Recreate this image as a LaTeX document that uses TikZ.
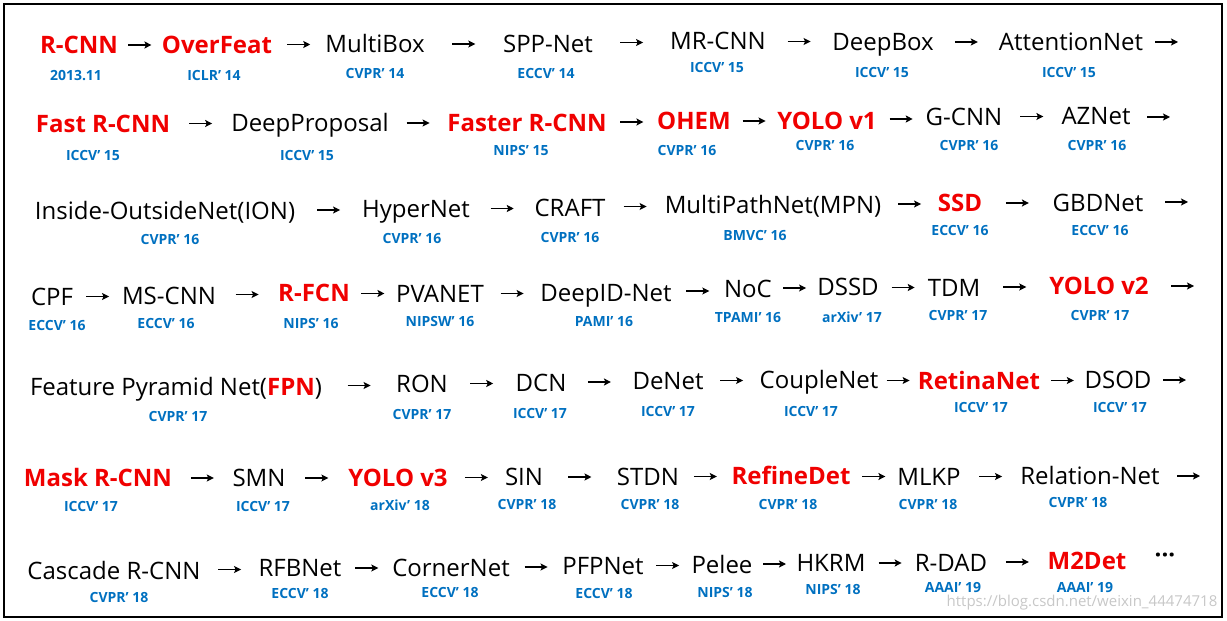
\documentclass[tikz,border=0pt]{standalone}
\usepackage{fontspec}
\setmainfont{Open Sans}
\usepackage{tikz}
\usetikzlibrary{arrows.meta,calc}
\definecolor{hotred}{RGB}{240,0,0}
\definecolor{venueblue}{RGB}{0,112,192}
\newcommand{\netfont}{\fontsize{24bp}{28bp}\selectfont}

\begin{document}
\begin{tikzpicture}[x=1bp, y=-1bp,
    net/.style={font=\netfont, text height=17bp, text depth=0bp, inner sep=0pt},
    key/.style={net, font=\netfont\bfseries, text=hotred},
    venue/.style={font=\fontsize{14bp}{16bp}\selectfont\bfseries, text=venueblue, text height=10bp, text depth=0bp, inner sep=0pt},
    arr/.style={-{Stealth[length=7bp, width=7bp, inset=1.5bp]}, line width=1.2bp,
        to path={($(\tikztostart.east)!.5!(\tikztotarget.west)+(-11.5,0)$) -- ($(\tikztostart.east)!.5!(\tikztotarget.west)+(11.5,0)$)}},
    arrend/.style={-{Stealth[length=7bp, width=7bp, inset=1.5bp]}, line width=1.2bp,
        to path={([xshift=-23bp]\tikztotarget) -- (\tikztotarget)}}
]
    \useasboundingbox (0,0) rectangle (1227,621);
    \draw[line width=2bp] (4,4) rectangle (1222,617);

    % row 1
    \node[key] (rcnn) at (79,45) {R-CNN};
    \node[key] (overfeat) at (217,45) {OverFeat};
    \node[net] (multibox) at (375,44) {MultiBox};
    \node[net] (spp) at (548,44) {SPP-Net};
    \node[net] (mrcnn) at (718,41) {MR-CNN};
    \node[net] (deepbox) at (883,42) {DeepBox};
    \node[net] (attnet) at (1071,42) {AttentionNet};
    \coordinate (end1) at (1178,42);
    \node[venue] (rcnn-v) at (76,76) {2013.11};
    \node[venue] (overfeat-v) at (214,76) {ICLR’ 14};
    \node[venue] (multibox-v) at (375,74) {CVPR’ 14};
    \node[venue] (spp-v) at (546,74) {ECCV’ 14};
    \node[venue] (mrcnn-v) at (717,68) {ICCV’ 15};
    \node[venue] (deepbox-v) at (882,73) {ICCV’ 15};
    \node[venue] (attnet-v) at (1069,73) {ICCV’ 15};
    \draw[arr] (rcnn) to (overfeat);
    \draw[arr] (overfeat) to (multibox);
    \draw[arr] (multibox) to (spp);
    \draw[arr] (spp) to (mrcnn);
    \draw[arr] (mrcnn) to (deepbox);
    \draw[arr] (deepbox) to (attnet);
    \draw[arrend] (attnet) to (end1);

    % row 2
    \node[key] (fastrcnn) at (103,124) {Fast R-CNN};
    \node[net] (deepprop) at (310,123) {DeepProposal};
    \node[key] (fasterrcnn) at (527,123) {Faster R-CNN};
    \node[key] (ohem) at (694,121) {OHEM};
    \node[key] (yolo1) at (827,121) {YOLO v1};
    \node[net] (gcnn) at (964,117) {G-CNN};
    \node[net] (aznet) at (1096,116) {AZNet};
    \coordinate (end2) at (1170,117);
    \node[venue] (fastrcnn-v) at (93,156) {ICCV’ 15};
    \node[venue] (deepprop-v) at (307,156) {ICCV’ 15};
    \node[venue] (fasterrcnn-v) at (521,151) {NIPS’ 15};
    \node[venue] (ohem-v) at (687,151) {CVPR’ 16};
    \node[venue] (yolo1-v) at (825,146) {CVPR’ 16};
    \node[venue] (gcnn-v) at (969,146) {CVPR’ 16};
    \node[venue] (aznet-v) at (1097,146) {CVPR’ 16};
    \draw[arr] (fastrcnn) to (deepprop);
    \draw[arr] (deepprop) to (fasterrcnn);
    \draw[arr] (fasterrcnn) to (ohem);
    \draw[arr] (ohem) to (yolo1);
    \draw[arr] (yolo1) to (gcnn);
    \draw[arr] (gcnn) to (aznet);
    \draw[arrend] (aznet) to (end2);

    % row 3
    \node[net] (ion) at (165,211) {Inside-OutsideNet(ION)};
    \node[net] (hypernet) at (416,209) {HyperNet};
    \node[net] (craft) at (570,208) {CRAFT};
    \node[net] (mpn) at (773,205) {MultiPathNet(MPN)};
    \node[key] (ssd) at (960,203) {SSD};
    \node[net] (gbdnet) at (1098,203) {GBDNet};
    \coordinate (end3) at (1188,202);
    \node[venue] (ion-v) at (170,240) {CVPR’ 16};
    \node[venue] (hypernet-v) at (412,239) {CVPR’ 16};
    \node[venue] (craft-v) at (570,238) {CVPR’ 16};
    \node[venue] (mpn-v) at (755,236) {BMVC’ 16};
    \node[venue] (ssd-v) at (960,231) {ECCV’ 16};
    \node[venue] (gbdnet-v) at (1100,231) {ECCV’ 16};
    \draw[arr] (ion) to (hypernet);
    \draw[arr] (hypernet) to (craft);
    \draw[arr] (craft) to (mpn);
    \draw[arr] (mpn) to (ssd);
    \draw[arr] (ssd) to (gbdnet);
    \draw[arrend] (gbdnet) to (end3);

    % row 4
    \node[net] (cpf) at (52,297) {CPF};
    \node[net] (mscnn) at (169,296) {MS-CNN};
    \node[key] (rfcn) at (314,293) {R-FCN};
    \node[net] (pvanet) at (440,294) {PVANET};
    \node[net] (deepid) at (606,293) {DeepID-Net};
    \node[net] (noc) at (748,289) {NoC};
    \node[net] (dssd) at (848,287) {DSSD};
    \node[net] (tdm) at (954,288) {TDM};
    \node[key] (yolo2) at (1099,286) {YOLO v2};
    \coordinate (end4) at (1194,286);
    \node[venue] (cpf-v) at (57,326) {ECCV’ 16};
    \node[venue] (mscnn-v) at (166,324) {ECCV’ 16};
    \node[venue] (rfcn-v) at (311,324) {NIPS’ 16};
    \node[venue] (pvanet-v) at (440,322) {NIPSW’ 16};
    \node[venue] (deepid-v) at (604,322) {PAMI’ 16};
    \node[venue] (noc-v) at (748,318) {TPAMI’ 16};
    \node[venue] (dssd-v) at (852,318) {arXiv’ 17};
    \node[venue] (tdm-v) at (958,316) {CVPR’ 17};
    \node[venue] (yolo2-v) at (1100,316) {CVPR’ 17};
    \draw[arr] (cpf) to (mscnn);
    \draw[arr] (mscnn) to (rfcn);
    \draw[arr] (rfcn) to (pvanet);
    \draw[arr] (pvanet) to (deepid);
    \draw[arr] (deepid) to (noc);
    \draw[arr] (noc) to (dssd);
    \draw[arr] (dssd) to (tdm);
    \draw[arr] (tdm) to (yolo2);
    \draw[arrend] (yolo2) to (end4);

    % row 5
    \node[net] (fpn) at (176,387) {Feature Pyramid Net(\textcolor{hotred}{\bfseries FPN})};
    \node[net] (ron) at (422,384) {RON};
    \node[net] (dcn) at (541,383) {DCN};
    \node[net] (denet) at (668,381) {DeNet};
    \node[net] (couplenet) at (819,380) {CoupleNet};
    \node[key] (retinanet) at (979,381) {RetinaNet};
    \node[net] (dsod) at (1118,380) {DSOD};
    \coordinate (end5) at (1186,380);
    \node[venue] (fpn-v) at (178,416) {CVPR’ 17};
    \node[venue] (ron-v) at (422,414) {CVPR’ 17};
    \node[venue] (dcn-v) at (540,413) {ICCV’ 17};
    \node[venue] (denet-v) at (668,411) {ICCV’ 17};
    \node[venue] (couplenet-v) at (811,411) {ICCV’ 17};
    \node[venue] (retinanet-v) at (981,407) {ICCV’ 17};
    \node[venue] (dsod-v) at (1120,407) {ICCV’ 17};
    \draw[arr] (fpn) to (ron);
    \draw[arr] (ron) to (dcn);
    \draw[arr] (dcn) to (denet);
    \draw[arr] (denet) to (couplenet);
    \draw[arr] (couplenet) to (retinanet);
    \draw[arr] (retinanet) to (dsod);
    \draw[arrend] (dsod) to (end5);

    % row 6
    \node[key] (maskrcnn) at (98,478) {Mask R-CNN};
    \node[net] (smn) at (259,478) {SMN};
    \node[key] (yolo3) at (398,478) {YOLO v3};
    \node[net] (sin) at (524,477) {SIN};
    \node[net] (stdn) at (648,477) {STDN};
    \node[key] (refinedet) at (791,476) {RefineDet};
    \node[net] (mlkp) at (929,477) {MLKP};
    \node[net] (relnet) at (1090,476) {Relation-Net};
    \coordinate (end6) at (1200,476);
    \node[venue] (maskrcnn-v) at (91,506) {ICCV’ 17};
    \node[venue] (smn-v) at (263,506) {ICCV’ 17};
    \node[venue] (yolo3-v) at (400,505) {arXiv’ 18};
    \node[venue] (sin-v) at (527,504) {CVPR’ 18};
    \node[venue] (stdn-v) at (650,504) {CVPR’ 18};
    \node[venue] (refinedet-v) at (788,504) {CVPR’ 18};
    \node[venue] (mlkp-v) at (928,504) {CVPR’ 18};
    \node[venue] (relnet-v) at (1078,502) {CVPR’ 18};
    \draw[arr] (maskrcnn) to (smn);
    \draw[arr] (smn) to (yolo3);
    \draw[arr] (yolo3) to (sin);
    \draw[arr] (sin) to (stdn);
    \draw[arr] (stdn) to (refinedet);
    \draw[arr] (refinedet) to (mlkp);
    \draw[arr] (mlkp) to (relnet);
    \draw[arrend] (relnet) to (end6);

    % row 7
    \node[net] (cascade) at (114,571) {Cascade R-CNN};
    \node[net] (rfbnet) at (300,568) {RFBNet};
    \node[net] (cornernet) at (451,568) {CornerNet};
    \node[net] (pfpnet) at (603,566) {PFPNet};
    \node[net] (pelee) at (722,565) {Pelee};
    \node[net] (hkrm) at (831,563) {HKRM};
    \node[net] (rdad) at (951,563) {R-DAD};
    \node[key] (m2det) at (1087,561) {M2Det};
    \node[font=\netfont\bfseries, inner sep=0pt, anchor=base] (more) at (1165,563) {···};
    \node[venue] (cascade-v) at (119,597) {CVPR’ 18};
    \node[venue] (rfbnet-v) at (300,593) {ECCV’ 18};
    \node[venue] (cornernet-v) at (450,592) {ECCV’ 18};
    \node[venue] (pfpnet-v) at (604,593) {ECCV’ 18};
    \node[venue] (pelee-v) at (725,592) {NIPS’ 18};
    \node[venue] (hkrm-v) at (833,589) {NIPS’ 18};
    \node[venue] (rdad-v) at (953,587) {AAAI’ 19};
    \node[venue] (m2det-v) at (1085,587) {AAAI’ 19};
    \draw[arr] (cascade) to (rfbnet);
    \draw[arr] (rfbnet) to (cornernet);
    \draw[arr] (cornernet) to (pfpnet);
    \draw[arr] (pfpnet) to (pelee);
    \draw[arr] (pelee) to (hkrm);
    \draw[arr] (hkrm) to (rdad);
    \draw[arr] (rdad) to (m2det);

    \node[font=\fontsize{15bp}{17bp}\selectfont, text=black!22, inner sep=0pt] (wmark) at (1082,603) {https://blog.csdn.net/weixin\_44474718};
\end{tikzpicture}
\end{document}
